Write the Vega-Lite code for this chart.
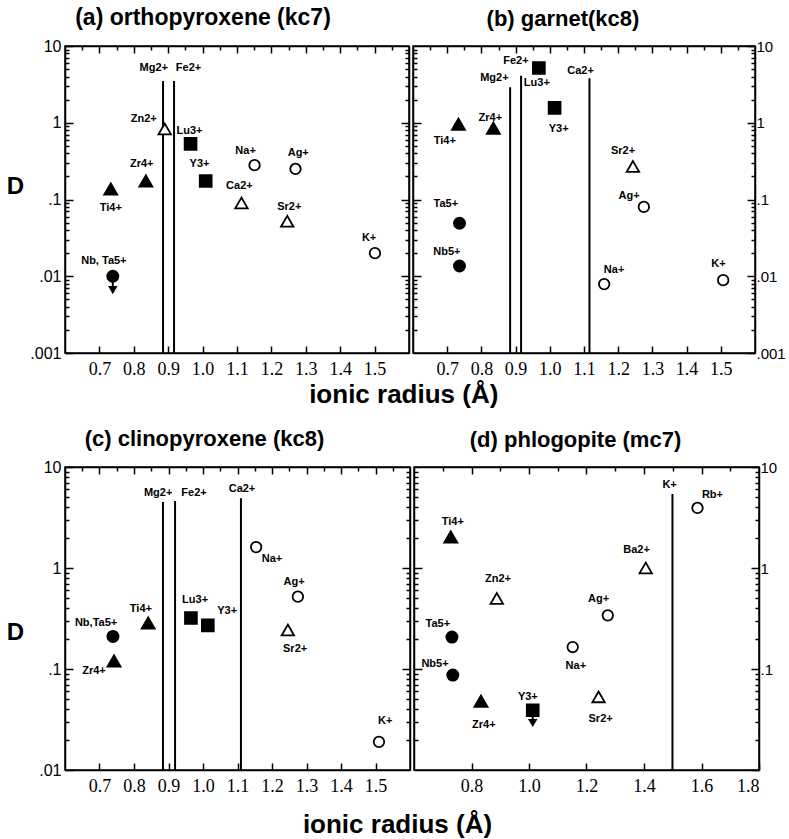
{
  "$schema": "https://vega.github.io/schema/vega-lite/v6.json",
  "padding": {"left": 5, "top": 6, "right": 2, "bottom": 0},
  "config": {
    "font": "Liberation Sans",
    "view": {"stroke": "black", "strokeWidth": 1.5},
    "axis": {"grid": false, "domainColor": "black", "domainWidth": 1.5, "ticks": true, "tickColor": "black", "tickWidth": 1.5, "labelColor": "black"},
    "title": {"color": "black", "fontWeight": "bold", "font": "Liberation Sans"}
  },
  "datasets": {
    "points": [
      {"panel": "a", "ion": "Ti4+", "r": 0.733, "D": 0.137, "type": "filled triangle"},
      {"panel": "a", "ion": "Zr4+", "r": 0.835, "D": 0.174, "type": "filled triangle"},
      {"panel": "a", "ion": "Zn2+", "r": 0.89, "D": 0.83, "type": "open triangle"},
      {"panel": "a", "ion": "Lu3+", "r": 0.965, "D": 0.53, "type": "filled square"},
      {"panel": "a", "ion": "Y3+", "r": 1.009, "D": 0.174, "type": "filled square"},
      {"panel": "a", "ion": "Na+", "r": 1.151, "D": 0.28, "type": "open circle"},
      {"panel": "a", "ion": "Ag+", "r": 1.27, "D": 0.25, "type": "open circle"},
      {"panel": "a", "ion": "Ca2+", "r": 1.113, "D": 0.09, "type": "open triangle"},
      {"panel": "a", "ion": "Sr2+", "r": 1.246, "D": 0.052, "type": "open triangle"},
      {"panel": "a", "ion": "K+", "r": 1.501, "D": 0.02, "type": "open circle"},
      {"panel": "a", "ion": "Nb, Ta5+", "r": 0.739, "D": 0.01, "type": "filled circle"},
      {"panel": "b", "ion": "Lu3+", "r": 0.968, "D": 5.17, "type": "filled square"},
      {"panel": "b", "ion": "Y3+", "r": 1.014, "D": 1.56, "type": "filled square"},
      {"panel": "b", "ion": "Ti4+", "r": 0.733, "D": 0.96, "type": "filled triangle"},
      {"panel": "b", "ion": "Zr4+", "r": 0.835, "D": 0.85, "type": "filled triangle"},
      {"panel": "b", "ion": "Sr2+", "r": 1.243, "D": 0.27, "type": "open triangle"},
      {"panel": "b", "ion": "Ag+", "r": 1.275, "D": 0.08, "type": "open circle"},
      {"panel": "b", "ion": "Ta5+", "r": 0.736, "D": 0.049, "type": "filled circle"},
      {"panel": "b", "ion": "Nb5+", "r": 0.736, "D": 0.0136, "type": "filled circle"},
      {"panel": "b", "ion": "Na+", "r": 1.159, "D": 0.0079, "type": "open circle"},
      {"panel": "b", "ion": "K+", "r": 1.507, "D": 0.0089, "type": "open circle"},
      {"panel": "c", "ion": "Na+", "r": 1.154, "D": 1.61, "type": "open circle"},
      {"panel": "c", "ion": "Ag+", "r": 1.275, "D": 0.52, "type": "open circle"},
      {"panel": "c", "ion": "Lu3+", "r": 0.965, "D": 0.32, "type": "filled square"},
      {"panel": "c", "ion": "Y3+", "r": 1.014, "D": 0.27, "type": "filled square"},
      {"panel": "c", "ion": "Ti4+", "r": 0.841, "D": 0.285, "type": "filled triangle"},
      {"panel": "c", "ion": "Nb,Ta5+", "r": 0.739, "D": 0.21, "type": "filled circle"},
      {"panel": "c", "ion": "Zr4+", "r": 0.742, "D": 0.12, "type": "filled triangle"},
      {"panel": "c", "ion": "Sr2+", "r": 1.246, "D": 0.243, "type": "open triangle"},
      {"panel": "c", "ion": "K+", "r": 1.51, "D": 0.019, "type": "open circle"},
      {"panel": "d", "ion": "Rb+", "r": 1.586, "D": 3.93, "type": "open circle"},
      {"panel": "d", "ion": "Ti4+", "r": 0.728, "D": 2.03, "type": "filled triangle"},
      {"panel": "d", "ion": "Ba2+", "r": 1.406, "D": 1.0, "type": "open triangle"},
      {"panel": "d", "ion": "Zn2+", "r": 0.888, "D": 0.5, "type": "open triangle"},
      {"panel": "d", "ion": "Ag+", "r": 1.274, "D": 0.34, "type": "open circle"},
      {"panel": "d", "ion": "Ta5+", "r": 0.732, "D": 0.207, "type": "filled circle"},
      {"panel": "d", "ion": "Na+", "r": 1.152, "D": 0.165, "type": "open circle"},
      {"panel": "d", "ion": "Nb5+", "r": 0.735, "D": 0.087, "type": "filled circle"},
      {"panel": "d", "ion": "Zr4+", "r": 0.833, "D": 0.048, "type": "filled triangle"},
      {"panel": "d", "ion": "Sr2+", "r": 1.242, "D": 0.053, "type": "open triangle"},
      {"panel": "d", "ion": "Y3+", "r": 1.013, "D": 0.039, "type": "filled square"}
    ],
    "lines": [
      {"panel": "a", "ion": "Mg2+", "r": 0.885, "top": 3.5},
      {"panel": "a", "ion": "Fe2+", "r": 0.917, "top": 3.5},
      {"panel": "b", "ion": "Mg2+", "r": 0.884, "top": 2.9},
      {"panel": "b", "ion": "Fe2+", "r": 0.916, "top": 4.1},
      {"panel": "b", "ion": "Ca2+", "r": 1.116, "top": 3.8},
      {"panel": "c", "ion": "Mg2+", "r": 0.884, "top": 4.5},
      {"panel": "c", "ion": "Fe2+", "r": 0.919, "top": 4.6},
      {"panel": "c", "ion": "Ca2+", "r": 1.11, "top": 4.9},
      {"panel": "d", "ion": "K+", "r": 1.499, "top": 5.4}
    ],
    "arrows": [
      {"panel": "a", "r": 0.739, "from": 0.0095, "to": 0.0068, "head": 0.0066},
      {"panel": "d", "r": 1.013, "from": 0.037, "to": 0.03, "head": 0.0292}
    ],
    "labels": [
      {"panel": "a", "text": "Mg2+", "r": 0.858, "D": 5.17},
      {"panel": "a", "text": "Fe2+", "r": 0.959, "D": 5.17},
      {"panel": "a", "text": "Ti4+", "r": 0.733, "D": 0.0774},
      {"panel": "a", "text": "Zr4+", "r": 0.823, "D": 0.29},
      {"panel": "a", "text": "Zn2+", "r": 0.829, "D": 1.12},
      {"panel": "a", "text": "Lu3+", "r": 0.962, "D": 0.78},
      {"panel": "a", "text": "Y3+", "r": 0.991, "D": 0.29},
      {"panel": "a", "text": "Na+", "r": 1.125, "D": 0.43},
      {"panel": "a", "text": "Ag+", "r": 1.278, "D": 0.4},
      {"panel": "a", "text": "Ca2+", "r": 1.107, "D": 0.15},
      {"panel": "a", "text": "Sr2+", "r": 1.252, "D": 0.08},
      {"panel": "a", "text": "K+", "r": 1.484, "D": 0.0315},
      {"panel": "a", "text": "Nb, Ta5+", "r": 0.713, "D": 0.0158},
      {"panel": "b", "text": "Fe2+", "r": 0.901, "D": 6.4},
      {"panel": "b", "text": "Mg2+", "r": 0.838, "D": 3.83},
      {"panel": "b", "text": "Lu3+", "r": 0.962, "D": 3.3},
      {"panel": "b", "text": "Ca2+", "r": 1.09, "D": 4.72},
      {"panel": "b", "text": "Y3+", "r": 1.026, "D": 0.83},
      {"panel": "b", "text": "Ti4+", "r": 0.693, "D": 0.578},
      {"panel": "b", "text": "Zr4+", "r": 0.826, "D": 1.15},
      {"panel": "b", "text": "Sr2+", "r": 1.214, "D": 0.43},
      {"panel": "b", "text": "Ag+", "r": 1.232, "D": 0.111},
      {"panel": "b", "text": "Ta5+", "r": 0.696, "D": 0.087},
      {"panel": "b", "text": "Nb5+", "r": 0.699, "D": 0.0207},
      {"panel": "b", "text": "Na+", "r": 1.188, "D": 0.012},
      {"panel": "b", "text": "K+", "r": 1.493, "D": 0.0145},
      {"panel": "c", "text": "Mg2+", "r": 0.87, "D": 5.53},
      {"panel": "c", "text": "Fe2+", "r": 0.974, "D": 5.53},
      {"panel": "c", "text": "Ca2+", "r": 1.113, "D": 6.05},
      {"panel": "c", "text": "Na+", "r": 1.2, "D": 1.23},
      {"panel": "c", "text": "Ag+", "r": 1.264, "D": 0.726},
      {"panel": "c", "text": "Lu3+", "r": 0.977, "D": 0.482},
      {"panel": "c", "text": "Y3+", "r": 1.07, "D": 0.375},
      {"panel": "c", "text": "Ti4+", "r": 0.82, "D": 0.393},
      {"panel": "c", "text": "Nb,Ta5+", "r": 0.69, "D": 0.285},
      {"panel": "c", "text": "Zr4+", "r": 0.684, "D": 0.0955},
      {"panel": "c", "text": "Sr2+", "r": 1.267, "D": 0.158},
      {"panel": "c", "text": "K+", "r": 1.528, "D": 0.0305},
      {"panel": "d", "text": "K+", "r": 1.489, "D": 6.64},
      {"panel": "d", "text": "Rb+", "r": 1.638, "D": 5.28},
      {"panel": "d", "text": "Ti4+", "r": 0.735, "D": 2.85},
      {"panel": "d", "text": "Ba2+", "r": 1.374, "D": 1.51},
      {"panel": "d", "text": "Zn2+", "r": 0.892, "D": 0.778},
      {"panel": "d", "text": "Ag+", "r": 1.242, "D": 0.493},
      {"panel": "d", "text": "Ta5+", "r": 0.683, "D": 0.279},
      {"panel": "d", "text": "Nb5+", "r": 0.673, "D": 0.112},
      {"panel": "d", "text": "Na+", "r": 1.163, "D": 0.107},
      {"panel": "d", "text": "Zr4+", "r": 0.843, "D": 0.0279},
      {"panel": "d", "text": "Y3+", "r": 0.996, "D": 0.0528},
      {"panel": "d", "text": "Sr2+", "r": 1.249, "D": 0.032}
    ]
  },
  "spacing": 19,
  "vconcat": [
    {
      "spacing": 0,
      "title": {"text": "ionic  radius  (Å)", "orient": "bottom", "anchor": "middle", "fontSize": 26, "offset": 3, "dx": 8},
      "hconcat": [
        {
          "width": 344, "height": 307,
          "title": {"text": "(a) orthopyroxene  (kc7)", "dx": -34, "fontSize": 23, "offset": 8},
          "resolve": {"axis": {"x": "independent", "y": "independent"}},
          "layer": [
            {"layer": [
              {"data": {"name": "lines"}, "transform": [{"filter": "datum.panel == 'a'"}],
               "mark": {"type": "rule", "color": "black", "strokeWidth": 2},
               "encoding": {
                 "x": {"field": "r", "type": "quantitative", "scale": {"domain": [0.6, 1.6], "nice": false, "zero": false},
                   "axis": {"orient": "bottom", "title": null, "values": [0.7,0.8,0.9,1,1.1,1.2,1.3,1.4,1.5], "format": ".1f",
                     "tickSize": -7, "tickColor": "black", "tickWidth": 1.5, "labelFont": "Liberation Sans Narrow", "labelFontSize": 18, "labelPadding": 14}},
                 "y": {"field": "top", "type": "quantitative", "scale": {"type": "log", "domain": [0.001, 10], "nice": false},
                   "axis": {"orient": "left", "title": "D", "values": [0.001,0.002,0.003,0.004,0.005,0.006,0.007,0.008,0.009,0.01,0.02,0.03,0.04,0.05,0.06,0.07,0.08,0.09,0.1,0.2,0.3,0.4,0.5,0.6,0.7,0.8,0.9,1,2,3,4,5,6,7,8,9,10],
                     "labelExpr": "indexof([1,10], datum.value) >= 0 ? toString(datum.value) : (indexof([0.001,0.01,0.1], datum.value) >= 0 ? replace(toString(datum.value), '0.', '.') : '')",
                     "tickSize": {"condition": {"test": "indexof([0.001,0.01,0.1,1,10], datum.value) >= 0", "value": -8}, "value": -4},
                     "tickColor": "black", "tickWidth": 1.5, "labelFontSize": 16, "labelPadding": 12,
                     "titleAngle": 0, "titleX": -50, "titleY": 140, "titleAlign": "center", "titleBaseline": "middle", "titleFontSize": 24, "titleFontWeight": "bold"}},
                 "y2": {"datum": 0.001}}},
              {"data": {"name": "points"}, "transform": [{"filter": "datum.panel == 'a'"}],
               "mark": {"type": "point", "filled": true, "stroke": "black", "strokeWidth": 1.8, "opacity": 1},
               "encoding": {
                 "x": {"field": "r", "type": "quantitative"},
                 "y": {"field": "D", "type": "quantitative"},
                 "shape": {"field": "type", "type": "nominal", "legend": null, "scale": {"domain": ["filled triangle", "open triangle", "filled square", "filled circle", "open circle"], "range": ["triangle-up", "triangle-up", "square", "circle", "circle"]}},
                 "fill": {"field": "type", "type": "nominal", "legend": null, "scale": {"domain": ["filled triangle", "open triangle", "filled square", "filled circle", "open circle"], "range": ["black", "white", "black", "black", "white"]}},
                 "size": {"field": "type", "type": "nominal", "legend": null, "scale": {"domain": ["filled triangle", "open triangle", "filled square", "filled circle", "open circle"], "range": [170, 110, 150, 150, 100]}}}},
              {"data": {"name": "arrows"}, "transform": [{"filter": "datum.panel == 'a'"}],
               "mark": {"type": "rule", "color": "black", "strokeWidth": 2},
               "encoding": {"x": {"field": "r", "type": "quantitative"}, "y": {"field": "from", "type": "quantitative"}, "y2": {"field": "to"}}},
              {"data": {"name": "arrows"}, "transform": [{"filter": "datum.panel == 'a'"}],
               "mark": {"type": "point", "shape": "triangle-down", "filled": true, "color": "black", "size": 90, "opacity": 1},
               "encoding": {"x": {"field": "r", "type": "quantitative"}, "y": {"field": "head", "type": "quantitative"}}},
              {"data": {"name": "labels"}, "transform": [{"filter": "datum.panel == 'a'"}],
               "mark": {"type": "text", "font": "Liberation Sans", "fontSize": 11, "fontWeight": "bold", "color": "black", "align": "center", "baseline": "middle"},
               "encoding": {"x": {"field": "r", "type": "quantitative"}, "y": {"field": "D", "type": "quantitative"}, "text": {"field": "text"}}}
            ]},
            {"data": {"name": "points"}, "transform": [{"filter": "datum.panel == 'a'"}],
             "mark": {"type": "point", "opacity": 0},
             "encoding": {
               "x": {"field": "r", "type": "quantitative", "scale": {"domain": [0.6, 1.6], "nice": false, "zero": false},
                 "axis": {"orient": "top", "title": null, "labels": false, "values": [0.65,0.7,0.75,0.8,0.85,0.9,0.95,1,1.05,1.1,1.15,1.2,1.25,1.3,1.35,1.4,1.45,1.5,1.55],
                   "tickSize": {"condition": {"test": "indexof([0.7,0.8,0.9,1,1.1,1.2,1.3,1.4,1.5], datum.value) >= 0", "value": -7}, "value": -4}, "tickColor": "black", "tickWidth": 1.5}},
               "y": {"field": "D", "type": "quantitative", "scale": {"type": "log", "domain": [0.001, 10], "nice": false},
                 "axis": {"orient": "right", "title": null, "labels": false, "values": [0.002,0.003,0.004,0.005,0.006,0.007,0.008,0.009,0.01,0.02,0.03,0.04,0.05,0.06,0.07,0.08,0.09,0.1,0.2,0.3,0.4,0.5,0.6,0.7,0.8,0.9,1,2,3,4,5,6,7,8,9],
                   "tickSize": {"condition": {"test": "indexof([0.01,0.1,1], datum.value) >= 0", "value": -8}, "value": -4}, "tickColor": "black", "tickWidth": 1.5}}}}
          ]
        },
        {
          "width": 342, "height": 307,
          "title": {"text": "(b) garnet(kc8)", "dx": -21, "fontSize": 22, "offset": 8},
          "resolve": {"axis": {"x": "independent", "y": "independent"}},
          "layer": [
            {"layer": [
              {"data": {"name": "lines"}, "transform": [{"filter": "datum.panel == 'b'"}],
               "mark": {"type": "rule", "color": "black", "strokeWidth": 2},
               "encoding": {
                 "x": {"field": "r", "type": "quantitative", "scale": {"domain": [0.6, 1.6], "nice": false, "zero": false},
                   "axis": {"orient": "bottom", "title": null, "values": [0.7,0.8,0.9,1,1.1,1.2,1.3,1.4,1.5], "format": ".1f",
                     "tickSize": -7, "tickColor": "black", "tickWidth": 1.5, "labelFont": "Liberation Sans Narrow", "labelFontSize": 18, "labelPadding": 14}},
                 "y": {"field": "top", "type": "quantitative", "scale": {"type": "log", "domain": [0.001, 10], "nice": false},
                   "axis": {"orient": "right", "title": null, "values": [0.001,0.002,0.003,0.004,0.005,0.006,0.007,0.008,0.009,0.01,0.02,0.03,0.04,0.05,0.06,0.07,0.08,0.09,0.1,0.2,0.3,0.4,0.5,0.6,0.7,0.8,0.9,1,2,3,4,5,6,7,8,9,10],
                     "labelExpr": "indexof([1,10], datum.value) >= 0 ? toString(datum.value) : (indexof([0.001,0.01,0.1], datum.value) >= 0 ? replace(toString(datum.value), '0.', '.') : '')",
                     "tickSize": {"condition": {"test": "indexof([0.001,0.01,0.1,1,10], datum.value) >= 0", "value": -8}, "value": -4},
                     "tickColor": "black", "tickWidth": 1.5,
                     "labelFontSize": 15, "labelPadding": 9}},
                 "y2": {"datum": 0.001}}},
              {"data": {"name": "points"}, "transform": [{"filter": "datum.panel == 'b'"}],
               "mark": {"type": "point", "filled": true, "stroke": "black", "strokeWidth": 1.8, "opacity": 1},
               "encoding": {
                 "x": {"field": "r", "type": "quantitative"},
                 "y": {"field": "D", "type": "quantitative"},
                 "shape": {"field": "type", "type": "nominal", "legend": null, "scale": {"domain": ["filled triangle", "open triangle", "filled square", "filled circle", "open circle"], "range": ["triangle-up", "triangle-up", "square", "circle", "circle"]}},
                 "fill": {"field": "type", "type": "nominal", "legend": null, "scale": {"domain": ["filled triangle", "open triangle", "filled square", "filled circle", "open circle"], "range": ["black", "white", "black", "black", "white"]}},
                 "size": {"field": "type", "type": "nominal", "legend": null, "scale": {"domain": ["filled triangle", "open triangle", "filled square", "filled circle", "open circle"], "range": [170, 110, 150, 150, 100]}}}},
              {"data": {"name": "labels"}, "transform": [{"filter": "datum.panel == 'b'"}],
               "mark": {"type": "text", "font": "Liberation Sans", "fontSize": 11, "fontWeight": "bold", "color": "black", "align": "center", "baseline": "middle"},
               "encoding": {"x": {"field": "r", "type": "quantitative"}, "y": {"field": "D", "type": "quantitative"}, "text": {"field": "text"}}}
            ]},
            {"data": {"name": "points"}, "transform": [{"filter": "datum.panel == 'b'"}],
             "mark": {"type": "point", "opacity": 0},
             "encoding": {
               "x": {"field": "r", "type": "quantitative", "scale": {"domain": [0.6, 1.6], "nice": false, "zero": false},
                 "axis": {"orient": "top", "title": null, "labels": false, "values": [0.65,0.7,0.75,0.8,0.85,0.9,0.95,1,1.05,1.1,1.15,1.2,1.25,1.3,1.35,1.4,1.45,1.5,1.55],
                   "tickSize": {"condition": {"test": "indexof([0.7,0.8,0.9,1,1.1,1.2,1.3,1.4,1.5], datum.value) >= 0", "value": -7}, "value": -4}, "tickColor": "black", "tickWidth": 1.5}},
               "y": {"field": "D", "type": "quantitative", "scale": {"type": "log", "domain": [0.001, 10], "nice": false},
                 "axis": {"orient": "left", "title": null, "labels": false, "values": [0.002,0.003,0.004,0.005,0.006,0.007,0.008,0.009,0.01,0.02,0.03,0.04,0.05,0.06,0.07,0.08,0.09,0.1,0.2,0.3,0.4,0.5,0.6,0.7,0.8,0.9,1,2,3,4,5,6,7,8,9],
                   "tickSize": {"condition": {"test": "indexof([0.01,0.1,1], datum.value) >= 0", "value": -8}, "value": -4}, "tickColor": "black", "tickWidth": 1.5}}}}
          ]
        }
      ]
    },
    {
      "spacing": 0,
      "title": {"text": "ionic  radius  (Å)", "orient": "bottom", "anchor": "middle", "fontSize": 26, "offset": 16, "dx": 6},
      "hconcat": [
        {
          "width": 345, "height": 303,
          "title": {"text": "(c) clinopyroxene  (kc8)", "dx": -33, "fontSize": 22, "offset": 8},
          "resolve": {"axis": {"x": "independent", "y": "independent"}},
          "layer": [
            {"layer": [
              {"data": {"name": "lines"}, "transform": [{"filter": "datum.panel == 'c'"}],
               "mark": {"type": "rule", "color": "black", "strokeWidth": 2},
               "encoding": {
                 "x": {"field": "r", "type": "quantitative", "scale": {"domain": [0.6, 1.6], "nice": false, "zero": false},
                   "axis": {"orient": "bottom", "title": null, "values": [0.7,0.8,0.9,1,1.1,1.2,1.3,1.4,1.5], "format": ".1f",
                     "tickSize": -7, "tickColor": "black", "tickWidth": 1.5, "labelFont": "Liberation Sans Narrow", "labelFontSize": 18, "labelPadding": 14}},
                 "y": {"field": "top", "type": "quantitative", "scale": {"type": "log", "domain": [0.01, 10], "nice": false},
                   "axis": {"orient": "left", "title": "D", "values": [0.01,0.02,0.03,0.04,0.05,0.06,0.07,0.08,0.09,0.1,0.2,0.3,0.4,0.5,0.6,0.7,0.8,0.9,1,2,3,4,5,6,7,8,9,10],
                     "labelExpr": "indexof([1,10], datum.value) >= 0 ? toString(datum.value) : (indexof([0.01,0.1], datum.value) >= 0 ? replace(toString(datum.value), '0.', '.') : '')",
                     "tickSize": {"condition": {"test": "indexof([0.01,0.1,1,10], datum.value) >= 0", "value": -8}, "value": -4},
                     "tickColor": "black", "tickWidth": 1.5, "labelFontSize": 16, "labelPadding": 12,
                     "titleAngle": 0, "titleX": -50, "titleY": 165, "titleAlign": "center", "titleBaseline": "middle", "titleFontSize": 24, "titleFontWeight": "bold"}},
                 "y2": {"datum": 0.01}}},
              {"data": {"name": "points"}, "transform": [{"filter": "datum.panel == 'c'"}],
               "mark": {"type": "point", "filled": true, "stroke": "black", "strokeWidth": 1.8, "opacity": 1},
               "encoding": {
                 "x": {"field": "r", "type": "quantitative"},
                 "y": {"field": "D", "type": "quantitative"},
                 "shape": {"field": "type", "type": "nominal", "legend": null, "scale": {"domain": ["filled triangle", "open triangle", "filled square", "filled circle", "open circle"], "range": ["triangle-up", "triangle-up", "square", "circle", "circle"]}},
                 "fill": {"field": "type", "type": "nominal", "legend": null, "scale": {"domain": ["filled triangle", "open triangle", "filled square", "filled circle", "open circle"], "range": ["black", "white", "black", "black", "white"]}},
                 "size": {"field": "type", "type": "nominal", "legend": null, "scale": {"domain": ["filled triangle", "open triangle", "filled square", "filled circle", "open circle"], "range": [170, 110, 150, 150, 100]}}}},
              {"data": {"name": "labels"}, "transform": [{"filter": "datum.panel == 'c'"}],
               "mark": {"type": "text", "font": "Liberation Sans", "fontSize": 11, "fontWeight": "bold", "color": "black", "align": "center", "baseline": "middle"},
               "encoding": {"x": {"field": "r", "type": "quantitative"}, "y": {"field": "D", "type": "quantitative"}, "text": {"field": "text"}}}
            ]},
            {"data": {"name": "points"}, "transform": [{"filter": "datum.panel == 'c'"}],
             "mark": {"type": "point", "opacity": 0},
             "encoding": {
               "x": {"field": "r", "type": "quantitative", "scale": {"domain": [0.6, 1.6], "nice": false, "zero": false},
                 "axis": {"orient": "top", "title": null, "labels": false, "values": [0.65,0.7,0.75,0.8,0.85,0.9,0.95,1,1.05,1.1,1.15,1.2,1.25,1.3,1.35,1.4,1.45,1.5,1.55],
                   "tickSize": {"condition": {"test": "indexof([0.7,0.8,0.9,1,1.1,1.2,1.3,1.4,1.5], datum.value) >= 0", "value": -7}, "value": -4}, "tickColor": "black", "tickWidth": 1.5}},
               "y": {"field": "D", "type": "quantitative", "scale": {"type": "log", "domain": [0.01, 10], "nice": false},
                 "axis": {"orient": "right", "title": null, "labels": false, "values": [0.02,0.03,0.04,0.05,0.06,0.07,0.08,0.09,0.1,0.2,0.3,0.4,0.5,0.6,0.7,0.8,0.9,1,2,3,4,5,6,7,8,9],
                   "tickSize": {"condition": {"test": "indexof([0.1,1], datum.value) >= 0", "value": -8}, "value": -4}, "tickColor": "black", "tickWidth": 1.5}}}}
          ]
        },
        {
          "width": 345, "height": 303,
          "title": {"text": "(d) phlogopite  (mc7)", "dx": -11, "fontSize": 22, "offset": 8},
          "resolve": {"axis": {"x": "independent", "y": "independent"}},
          "layer": [
            {"layer": [
              {"data": {"name": "lines"}, "transform": [{"filter": "datum.panel == 'd'"}],
               "mark": {"type": "rule", "color": "black", "strokeWidth": 2},
               "encoding": {
                 "x": {"field": "r", "type": "quantitative", "scale": {"domain": [0.6, 1.8], "nice": false, "zero": false},
                   "axis": {"orient": "bottom", "title": null, "values": [0.8,1,1.2,1.4,1.6,1.8], "format": ".1f",
                     "tickSize": -7, "tickColor": "black", "tickWidth": 1.5, "labelFont": "Liberation Sans Narrow", "labelFontSize": 18, "labelPadding": 14}},
                 "y": {"field": "top", "type": "quantitative", "scale": {"type": "log", "domain": [0.01, 10], "nice": false},
                   "axis": {"orient": "right", "title": null, "values": [0.01,0.02,0.03,0.04,0.05,0.06,0.07,0.08,0.09,0.1,0.2,0.3,0.4,0.5,0.6,0.7,0.8,0.9,1,2,3,4,5,6,7,8,9,10],
                     "labelExpr": "indexof([1,10], datum.value) >= 0 ? toString(datum.value) : (datum.value == 0.1 ? '.1' : '')",
                     "tickSize": {"condition": {"test": "indexof([0.01,0.1,1,10], datum.value) >= 0", "value": -8}, "value": -4},
                     "tickColor": "black", "tickWidth": 1.5,
                     "labelFontSize": 15, "labelPadding": 9}},
                 "y2": {"datum": 0.01}}},
              {"data": {"name": "points"}, "transform": [{"filter": "datum.panel == 'd'"}],
               "mark": {"type": "point", "filled": true, "stroke": "black", "strokeWidth": 1.8, "opacity": 1},
               "encoding": {
                 "x": {"field": "r", "type": "quantitative"},
                 "y": {"field": "D", "type": "quantitative"},
                 "shape": {"field": "type", "type": "nominal", "legend": null, "scale": {"domain": ["filled triangle", "open triangle", "filled square", "filled circle", "open circle"], "range": ["triangle-up", "triangle-up", "square", "circle", "circle"]}},
                 "fill": {"field": "type", "type": "nominal", "legend": null, "scale": {"domain": ["filled triangle", "open triangle", "filled square", "filled circle", "open circle"], "range": ["black", "white", "black", "black", "white"]}},
                 "size": {"field": "type", "type": "nominal", "legend": null, "scale": {"domain": ["filled triangle", "open triangle", "filled square", "filled circle", "open circle"], "range": [170, 110, 150, 150, 100]}}}},
              {"data": {"name": "arrows"}, "transform": [{"filter": "datum.panel == 'd'"}],
               "mark": {"type": "rule", "color": "black", "strokeWidth": 2},
               "encoding": {"x": {"field": "r", "type": "quantitative"}, "y": {"field": "from", "type": "quantitative"}, "y2": {"field": "to"}}},
              {"data": {"name": "arrows"}, "transform": [{"filter": "datum.panel == 'd'"}],
               "mark": {"type": "point", "shape": "triangle-down", "filled": true, "color": "black", "size": 90, "opacity": 1},
               "encoding": {"x": {"field": "r", "type": "quantitative"}, "y": {"field": "head", "type": "quantitative"}}},
              {"data": {"name": "labels"}, "transform": [{"filter": "datum.panel == 'd'"}],
               "mark": {"type": "text", "font": "Liberation Sans", "fontSize": 11, "fontWeight": "bold", "color": "black", "align": "center", "baseline": "middle"},
               "encoding": {"x": {"field": "r", "type": "quantitative"}, "y": {"field": "D", "type": "quantitative"}, "text": {"field": "text"}}}
            ]},
            {"data": {"name": "points"}, "transform": [{"filter": "datum.panel == 'd'"}],
             "mark": {"type": "point", "opacity": 0},
             "encoding": {
               "x": {"field": "r", "type": "quantitative", "scale": {"domain": [0.6, 1.8], "nice": false, "zero": false},
                 "axis": {"orient": "top", "title": null, "labels": false, "values": [0.7,0.8,0.9,1,1.1,1.2,1.3,1.4,1.5,1.6,1.7],
                   "tickSize": {"condition": {"test": "indexof([0.8,1,1.2,1.4,1.6], datum.value) >= 0", "value": -7}, "value": -4}, "tickColor": "black", "tickWidth": 1.5}},
               "y": {"field": "D", "type": "quantitative", "scale": {"type": "log", "domain": [0.01, 10], "nice": false},
                 "axis": {"orient": "left", "title": null, "labels": false, "values": [0.02,0.03,0.04,0.05,0.06,0.07,0.08,0.09,0.1,0.2,0.3,0.4,0.5,0.6,0.7,0.8,0.9,1,2,3,4,5,6,7,8,9],
                   "tickSize": {"condition": {"test": "indexof([0.1,1], datum.value) >= 0", "value": -8}, "value": -4}, "tickColor": "black", "tickWidth": 1.5}}}}
          ]
        }
      ]
    }
  ]
}
